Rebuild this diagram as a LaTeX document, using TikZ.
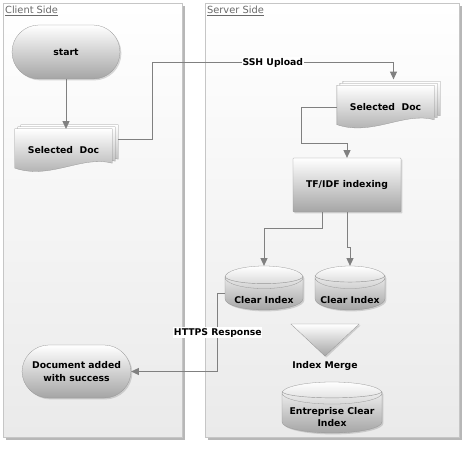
\documentclass[tikz,border=0pt]{standalone}
\usepackage{fontspec}
\setmainfont{DejaVu Sans}
\usetikzlibrary{arrows.meta,positioning,shapes.geometric,shadows,calc}
\definecolor{linegray}{RGB}{128,128,128}
\definecolor{panelgray}{RGB}{234,234,234}
\definecolor{edgegray}{RGB}{150,150,150}
\definecolor{shadegray}{RGB}{165,165,165}
\definecolor{labelgray}{RGB}{105,105,105}
\pgfdeclarelayer{panel}
\pgfdeclarelayer{background}
\pgfsetlayers{panel,background,main}
\tikzset{
  panel/.style={draw=gray!45, top color=white, bottom color=panelgray,
                drop shadow={shadow xshift=1.5mm, shadow yshift=-1.5mm, fill=gray!80, opacity=0.7}},
  paneltitle/.style={anchor=west, text=labelgray, font=\fontsize{14}{16}\selectfont, inner sep=0pt},
  block/.style={draw=edgegray, top color=white, bottom color=shadegray, align=center,
                font=\fontsize{13.2}{18}\selectfont\bfseries,
                drop shadow={opacity=0.3, shadow xshift=0.7mm, shadow yshift=-0.7mm}},
  terminal/.style={block, rectangle, rounded corners=13.5mm},
  process/.style={block, rectangle, rounded corners=1pt},
  store/.style={block, cylinder, shape border rotate=90, aspect=0.38, inner sep=0pt, anchor=shape center},
  merge/.style={block, isosceles triangle, shape border rotate=270, isosceles triangle stretches},
  docbox/.style={rectangle, inner sep=0pt, minimum width=48.5mm, minimum height=21.5mm,
                 font=\fontsize{13.2}{17}\selectfont\bfseries},
  sheet/.style={draw=edgegray, top color=white, bottom color=shadegray},
  ring/.style={draw=edgegray, line width=0.6pt},
  conn/.style={draw=linegray, line width=1.2pt, -{Triangle[length=11pt,width=10pt]}},
  lbl/.style={fill=white, inner sep=1pt, font=\fontsize{13.2}{16}\selectfont\bfseries},
}
% stacked document sheets behind a docbox node
\newcommand\docsheets[1]{%
  \foreach \dx/\dy in {6/-4,3/-2,0/0}{
    \draw[sheet] ([shift={(\dx,\dy)}]#1.north west) -- ([shift={(\dx,\dy)}]#1.north east)
      -- ([shift={(\dx,\dy-9)}]#1.south east)
      .. controls +(-30,-8) and +(35,12) .. ([shift={(\dx,\dy-4)}]#1.south west) -- cycle;
  }}
% second rim line under the lid of a store
\newcommand\ringarc[3]{%
  \draw[ring] ([shift={(-#2,#3+3)}]#1.north)
    arc[start angle=180, end angle=360, x radius=#2*0.5mm, y radius=#3*0.5mm];}
% text set lower inside a store
\newcommand\lowtext[2]{\raisebox{#1}[0pt][0pt]{\begin{tabular}{@{}c@{}}#2\end{tabular}}}
\begin{document}
\begin{tikzpicture}[x=0.5mm, y=-0.5mm]
\useasboundingbox (0,0) rectangle (473,452);

% swimlanes
\begin{pgfonlayer}{panel}
  \draw[panel] (3,3) rectangle (182,437);
  \draw[panel] (205,3) rectangle (459,437);
\end{pgfonlayer}
\node[paneltitle] (client) at (5,11) {\underline{Client Side}};
\node[paneltitle] (server) at (207,11) {\underline{Server Side}};

% client side
\node[terminal, minimum width=54mm, minimum height=27mm] (start) at (66,52) {start};
\node[docbox] (cdoc) at (63.5,150.5) {Selected\ \ Doc};
\node[terminal, minimum width=54.5mm, minimum height=26.5mm] (done) at (76.5,371.5) {Document added\\with success};

% server side
\node[docbox] (sdoc) at (385.5,107) {Selected\ \ Doc};
\node[process, minimum width=54mm, minimum height=27mm] (tfidf) at (347,185) {TF/IDF indexing};
\node[store, minimum width=39mm, minimum height=22mm] (ci1) at (264,288) {\lowtext{-4.5mm}{Clear Index}};
\node[store, minimum width=35mm, minimum height=22mm] (ci2) at (350,288) {\lowtext{-4.5mm}{Clear Index}};
\node[merge, minimum width=34mm, minimum height=16mm,
      label={[lbl, fill=none, yshift=-2mm]below:Index Merge}] (merge) at (325,337) {};
\node[store, aspect=0.26, minimum width=50mm, minimum height=25.5mm] (eci) at (332,407.5)
  {\lowtext{-3.5mm}{Entreprise Clear\\Index}};
\ringarc{ci1}{39}{7.4}
\ringarc{ci2}{35}{6.6}
\ringarc{eci}{50}{6.5}

\begin{pgfonlayer}{background}
  \docsheets{cdoc}
  \docsheets{sdoc}
\end{pgfonlayer}

% flows
\draw[conn] (start) -- (start |- cdoc.north);
\draw[conn] ([shift={(6,-11)}]cdoc.east) -- ++(34,0) -- ++(0,-77)
  -| node[lbl, pos=0.25] {SSH Upload} ([shift={(8,-6)}]sdoc.north);
\draw[conn] (sdoc.west) -| ++(-35,36) -| (tfidf.north);
\draw[conn] ([xshift=-12.5mm]tfidf.south) -- ++(0,16) -| (ci1.north);
\draw[conn] (tfidf.south) -- ++(0,35) -| (ci2.north);
\draw[conn] (ci1.west) -- ++(-7,0)
  |- node[lbl, pos=0.25] {HTTPS Response} (done.east);
\end{tikzpicture}
\end{document}
